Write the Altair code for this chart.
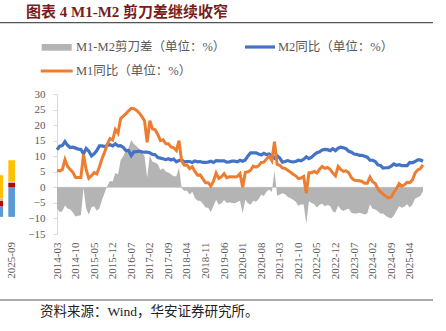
import altair as alt
import pandas as pd

# ---- data ----
months = [f"{y}-{m:02d}" for y in range(2014, 2026) for m in range(1, 13)]
months = months[months.index("2014-03"):months.index("2025-09") + 1]

M2 = [12.1, 13.2, 13.4, 14.7, 13.5, 12.8, 12.9, 12.6, 12.3, 12.2,
      10.8, 12.5, 11.6, 10.1, 10.8, 11.8, 13.3, 13.3, 13.1, 13.5, 13.7, 13.3,
      14.0, 13.3, 13.4, 12.8, 11.8, 11.8, 10.2, 11.4, 11.5, 11.6, 11.4, 11.3,
      11.3, 11.1, 10.6, 10.5, 9.6, 9.4, 9.2, 8.9, 9.2, 8.8, 9.1, 8.2,
      8.6, 8.8, 8.2, 8.3, 8.3, 8.0, 8.5, 8.2, 8.3, 8.0, 8.0, 8.1,
      8.4, 8.0, 8.6, 8.5, 8.5, 8.5, 8.1, 8.2, 8.4, 8.4, 8.2, 8.7,
      8.4, 8.8, 10.1, 11.1, 11.1, 11.1, 10.7, 10.4, 10.9, 10.5, 10.7, 10.1,
      9.4, 10.1, 9.4, 8.1, 8.3, 8.6, 8.3, 8.2, 8.3, 8.7, 8.5, 9.0,
      9.8, 9.2, 9.7, 10.5, 11.1, 11.4, 12.0, 12.2, 12.1, 11.8, 12.4, 11.8,
      12.6, 12.9, 12.7, 12.4, 11.6, 11.3, 10.7, 10.6, 10.3, 10.3, 10.0, 9.7,
      8.7, 8.7, 8.3, 7.2, 7.0, 6.2, 6.3, 6.3, 6.8, 7.5, 7.1, 7.3,
      7.0, 7.0, 7.0, 8.0, 7.9, 8.3, 8.8, 8.8, 8.4]

M1 = [5.4, 5.3, 5.7, 8.9, 6.7, 5.7, 4.8, 3.2, 3.2, 3.2,
      10.6, 5.6, 2.9, 3.7, 4.7, 4.3, 6.6, 9.3, 11.4, 14.0, 15.7, 15.2,
      18.6, 17.4, 22.1, 22.9, 23.7, 24.6, 25.4, 25.3, 24.7, 23.9, 22.7, 21.4,
      14.5, 21.4, 18.8, 18.5, 17.0, 15.0, 15.3, 14.0, 14.0, 13.0, 12.7, 11.8,
      15.0, 8.5, 7.1, 7.2, 6.0, 6.6, 5.1, 3.9, 4.0, 2.7, 1.5, 1.5,
      0.4, 2.0, 4.6, 2.9, 3.4, 4.4, 3.1, 3.4, 3.4, 3.3, 3.5, 4.4,
      0.0, 4.8, 5.0, 5.5, 6.8, 6.5, 6.9, 8.0, 8.1, 9.1, 10.0, 8.6,
      14.7, 7.4, 7.1, 6.2, 6.1, 5.5, 4.9, 4.2, 3.7, 2.8, 3.0, 3.5,
      -1.9, 4.7, 4.7, 5.1, 4.6, 5.8, 6.7, 6.1, 6.4, 5.8, 4.6, 3.7,
      6.7, 5.8, 5.1, 5.3, 4.7, 3.1, 2.3, 2.2, 2.1, 1.9, 1.3, 1.3,
      3.3, 1.8, 1.2, -0.5, -1.5, -2.2, -2.9, -3.4, -3.2, -1.6, -0.4, 1.2,
      0.4, 0.8, 1.6, 1.5, 2.3, 4.6, 5.6, 6.0, 7.2]

GAP = [-6.7, -7.9, -7.7, -5.8, -6.8, -7.1, -8.1, -9.4, -9.1, -9.0,
       -0.2, -6.9, -8.7, -6.4, -6.1, -7.5, -6.7, -4.0, -1.7, 0.5, 2.0, 1.9,
       4.6, 4.1, 8.7, 10.1, 11.9, 12.8, 15.2, 13.9, 13.2, 12.3, 11.3, 10.1,
       3.2, 10.3, 8.2, 8.0, 7.4, 5.6, 6.1, 5.1, 4.8, 4.2, 3.6, 3.6,
       6.4, -0.3, -1.1, -1.1, -2.3, -1.4, -3.4, -4.3, -4.3, -5.3, -6.5, -6.6,
       -8.0, -6.0, -4.0, -5.6, -5.1, -4.1, -5.0, -4.8, -5.0, -5.1, -4.7, -4.3,
       -8.4, -4.0, -5.1, -5.6, -4.3, -4.6, -3.8, -2.4, -2.8, -1.4, -0.7, -1.5,
       5.3, -2.7, -2.3, -1.9, -2.2, -3.1, -3.4, -4.0, -4.6, -5.9, -5.5, -5.5,
       -11.7, -4.5, -5.0, -5.4, -6.5, -5.6, -5.3, -6.1, -5.7, -6.0, -7.8, -8.1,
       -5.9, -7.1, -7.6, -7.1, -6.9, -8.2, -8.4, -8.4, -8.2, -8.4, -8.7, -8.4,
       -5.4, -6.9, -7.1, -7.7, -8.5, -8.4, -9.2, -9.7, -10.0, -9.1, -7.5, -6.1,
       -6.6, -6.2, -5.4, -6.5, -5.6, -3.7, -3.2, -2.8, -1.2]

tick_labels = months[::7]
y_ticks = [-15, -10, -5, 0, 5, 10, 15, 20, 25, 30]

# cropped neighbouring chart at the left edge
art_segments = ["blue", "red", "gray", "yellow"]
art1_lo = [-9.5, -6.1, -4.3, -3.6]
art1_hi = [-6.1, -4.3, -3.6, 3.9]
art2_lo = [-9.5, 0.0, 1.5, 1.9]
art2_hi = [0.0, 1.5, 1.9, 8.7]

df = pd.DataFrame({"month": months, "M2": M2, "M1": M1, "gap": GAP})

SERIF = "Liberation Serif, Noto Sans CJK SC"
AX_COL = "#595959"

yscale = alt.Scale(domain=[-15, 30], nice=False, zero=False)
yaxis = alt.Axis(values=y_ticks, title=None, grid=False, domainColor="#D9D9D9",
                 tickColor="#D9D9D9", tickSize=4, labelPadding=8,
                 labelFont="Liberation Serif", labelFontSize=11, labelColor=AX_COL)
xenc = alt.X("month:O", sort=None, scale=alt.Scale(type="point", padding=0),
             axis=alt.Axis(values=tick_labels, title=None, labelAngle=270, domain=False,
                           ticks=False, labelPadding=8, labelOverlap=False,
                           labelFont="Liberation Serif", labelFontSize=11,
                           labelColor=AX_COL))

base = alt.Chart(df)

zero = alt.Chart(pd.DataFrame({"z": [0]})).mark_rule(color="#D9D9D9", strokeWidth=1).encode(
    y=alt.Y("z:Q", scale=yscale, axis=yaxis))

area = base.mark_area(color="#B4B4B4", opacity=1).encode(
    x=xenc, y=alt.Y("gap:Q", scale=yscale, axis=yaxis), y2=alt.datum(0))

m2 = base.mark_line(color="#4472C4", strokeWidth=3.2).encode(
    x=xenc, y=alt.Y("M2:Q", scale=yscale, axis=yaxis))
m1 = base.mark_line(color="#ED7D31", strokeWidth=3).encode(
    x=xenc, y=alt.Y("M1:Q", scale=yscale, axis=yaxis))


def txt(s, x, y, size, color, font=SERIF, weight="normal", align="left", angle=0):
    return alt.Chart(pd.DataFrame({"t": [s]})).mark_text(
        align=align, baseline="middle", fontSize=size, color=color, font=font,
        fontWeight=weight, angle=angle).encode(
        text="t:N", x=alt.value(x), y=alt.value(y))


def hline(x1, x2, y, color, w=1):
    return alt.Chart(pd.DataFrame({"a": [0]})).mark_rule(color=color, strokeWidth=w).encode(
        x=alt.value(x1), x2=alt.value(x2), y=alt.value(y))


def box(x1, x2, y1, y2, color):
    return alt.Chart(pd.DataFrame({"a": [0]})).mark_rect(color=color).encode(
        x=alt.value(x1), x2=alt.value(x2), y=alt.value(y1), y2=alt.value(y2))


art_color = alt.Color("seg:N", legend=None, scale=alt.Scale(
    domain=art_segments, range=["#5B9BD5", "#C00000", "#BFBFBF", "#FFC000"]))
art1 = alt.Chart(pd.DataFrame({"seg": art_segments, "lo": art1_lo, "hi": art1_hi})).mark_rect().encode(
    x=alt.value(-57), x2=alt.value(-54),
    y=alt.Y("lo:Q", scale=yscale, axis=yaxis), y2="hi:Q", color=art_color)
art2 = alt.Chart(pd.DataFrame({"seg": art_segments, "lo": art2_lo, "hi": art2_hi})).mark_rect().encode(
    x=alt.value(-48.7), x2=alt.value(-42),
    y=alt.Y("lo:Q", scale=yscale, axis=yaxis), y2="hi:Q", color=art_color)

layers = [
    zero, area, m2, m1, art1, art2,
    txt("图表 4 M1-M2 剪刀差继续收窄", -31, -82, 15, "#7A1C1C", weight="bold"),
    hline(-57, 376, -71.3, "#555555", 1.2),
    box(-15.3, 14.7, -50, -43.3, "#B4B4B4"),
    txt("M1-M2剪刀差（单位：%）", 19, -46.7, 12.5, AX_COL),
    hline(188, 218, -47, "#4472C4", 3.2),
    txt("M2同比（单位：%）", 221, -46.7, 12.5, AX_COL),
    hline(-16.3, 15.7, -23, "#ED7D31", 3),
    txt("M1同比（单位：%）", 19, -23, 12.5, AX_COL),
    txt("2025-09", -45, 148, 11, AX_COL, font="Liberation Serif", align="right", angle=270),
    hline(-57, 376, 206, "#555555", 1.2),
    txt("资料来源：Wind，华安证券研究所。", -17, 217.7, 13.5, "#222222"),
]

chart = alt.layer(*layers).properties(
    width=366, height=140,
    autosize=alt.AutoSizeParams(type="none"),
    padding={"left": 57, "top": 94, "right": 23, "bottom": 97},
).configure_view(stroke=None)

chart.save("out.html", embed_options={"renderer": "svg", "actions": False})
